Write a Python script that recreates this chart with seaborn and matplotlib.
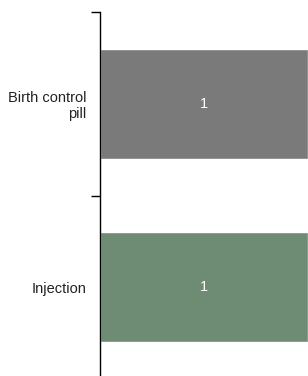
import pandas as pd
import matplotlib
matplotlib.use("Agg")
import matplotlib.pyplot as plt
import seaborn as sns
from matplotlib.ticker import FixedLocator

# chart data
methods = ["Birth control\npill", "Injection"]
counts = [1, 1]
bar_colors = ["#7a7a7a", "#6d8c73"]

df = pd.DataFrame({"method": methods, "count": counts})

sns.set_style("white")
plt.rcParams["font.family"] = ["Liberation Sans", "DejaVu Sans"]

fig = plt.figure(figsize=(3.08, 3.76), dpi=100)
ax = fig.add_axes([100 / 308, -3 / 376, 208 / 308, 367 / 376])

sns.barplot(data=df, y="method", x="count", hue="method", palette=bar_colors,
            width=0.6, legend=False, saturation=1, ax=ax)

ax.set_xlim(0, max(counts))
ax.set_ylim(1.5, -0.5)

# value labels in the middle of each bar
for i, v in enumerate(counts):
    ax.text(v / 2, i, str(v), color="white", ha="center", va="center", fontsize=10.5)

# category boundaries as minor ticks, labels at centres without ticks
ax.yaxis.set_minor_locator(FixedLocator([-0.5, 0.5, 1.5]))
ax.tick_params(axis="y", which="minor", length=6.5, width=1, color="black", left=True)
ax.tick_params(axis="y", which="major", length=0, pad=10, labelsize=10.5, labelcolor="#222222")
for lbl in ax.get_yticklabels():
    lbl.set_ha("right")
    lbl.set_multialignment("right")
    lbl.set_linespacing(1.15)

ax.set_xlabel("")
ax.set_ylabel("")
ax.set_xticks([])
for side in ["top", "right", "bottom"]:
    ax.spines[side].set_visible(False)
ax.spines["left"].set_color("black")
ax.spines["left"].set_linewidth(1)

fig.savefig("out.png", dpi=100)
